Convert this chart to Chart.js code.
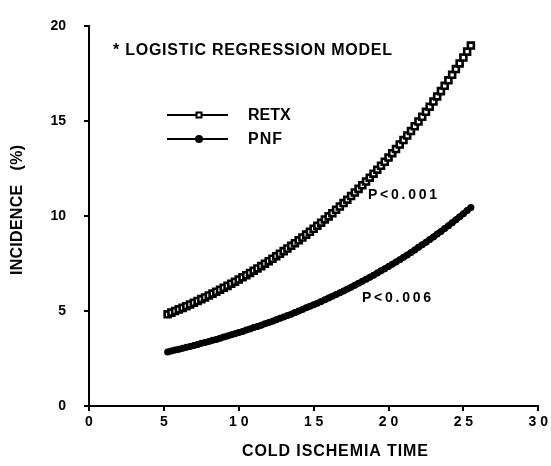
<!DOCTYPE html>
<html><head><meta charset="utf-8">
<script src="https://cdn.jsdelivr.net/npm/chart.js@4/dist/chart.umd.min.js"></script>
<style>html,body{margin:0;padding:0;background:#fff}canvas{display:block}</style>
</head><body>
<canvas id="c" width="551" height="466"></canvas>
<script>
const coldIschemiaTime = [
  5.25,5.5,5.75,6,6.25,6.5,6.75,7,7.25,7.5,7.75,8,8.25,8.5,8.75,9,9.25,9.5,9.75,10,
  10.25,10.5,10.75,11,11.25,11.5,11.75,12,12.25,12.5,12.75,13,13.25,13.5,13.75,14,14.25,14.5,14.75,15,
  15.25,15.5,15.75,16,16.25,16.5,16.75,17,17.25,17.5,17.75,18,18.25,18.5,18.75,19,19.25,19.5,19.75,20,
  20.25,20.5,20.75,21,21.25,21.5,21.75,22,22.25,22.5,22.75,23,23.25,23.5,23.75,24,24.25,24.5,24.75,25,
  25.25,25.5
];
const retxIncidence = [
  4.83,4.92,5.00,5.09,5.17,5.26,5.35,5.44,5.53,5.63,5.72,5.82,5.92,6.02,6.12,6.23,6.33,6.44,6.55,6.66,
  6.78,6.89,7.01,7.13,7.25,7.37,7.50,7.63,7.76,7.89,8.02,8.16,8.30,8.44,8.58,8.73,8.88,9.03,9.18,9.34,
  9.50,9.66,9.83,9.99,10.16,10.34,10.51,10.69,10.87,11.06,11.25,11.44,11.63,11.83,12.03,12.24,12.45,12.66,12.87,13.09,
  13.32,13.54,13.78,14.01,14.25,14.49,14.74,14.99,15.24,15.50,15.77,16.04,16.31,16.59,16.87,17.16,17.45,17.75,18.05,18.36,
  18.67,18.99
];
const pnfIncidence = [
  2.85,2.90,2.95,2.99,3.04,3.09,3.14,3.19,3.24,3.30,3.35,3.40,3.46,3.51,3.57,3.63,3.69,3.75,3.81,3.87,
  3.93,4.00,4.06,4.13,4.19,4.26,4.33,4.40,4.47,4.54,4.62,4.69,4.77,4.84,4.92,5.00,5.08,5.17,5.25,5.33,
  5.42,5.51,5.60,5.69,5.78,5.87,5.97,6.06,6.16,6.26,6.36,6.47,6.57,6.68,6.78,6.89,7.01,7.12,7.23,7.35,
  7.47,7.59,7.71,7.84,7.96,8.09,8.22,8.36,8.49,8.63,8.77,8.91,9.06,9.20,9.35,9.50,9.66,9.81,9.97,10.13,
  10.30,10.46
];
const xTickLabels = ['0','5','1 0','1 5','2 0','2 5','3 0'];
const yTickLabels = ['0','5','10','15','20'];
const seriesNames = ['RETX','PNF'];
const modelNote = '* LOGISTIC REGRESSION MODEL';
const pLabels = ['P<0.001','P<0.006'];
const xTitle = 'COLD ISCHEMIA TIME';
const yTitle = 'INCIDENCE   (%)';

const FONT = '"Liberation Sans", Arial, sans-serif';

function fitText(ctx, text, x, y, w, size) {
  ctx.font = 'bold ' + size + 'px ' + FONT;
  ctx.letterSpacing = '0px';
  const w0 = ctx.measureText(text).width;
  const sp = Math.max(0, (w - w0) / Math.max(1, text.length - 1));
  ctx.letterSpacing = sp + 'px';
  ctx.textAlign = 'left';
  ctx.fillText(text, x, y);
  ctx.letterSpacing = '0px';
}

const textPlugin = {
  id: 'texts',
  afterDraw(chart) {
    const ctx = chart.ctx;
    ctx.save();
    ctx.fillStyle = '#000';
    ctx.strokeStyle = '#000';
    ctx.textBaseline = 'middle';
    fitText(ctx, modelNote, 113, 51, 279, 16);
    // legend
    ctx.lineWidth = 2;
    ctx.beginPath(); ctx.moveTo(167, 115); ctx.lineTo(228, 115); ctx.stroke();
    ctx.beginPath(); ctx.moveTo(167, 139); ctx.lineTo(228, 139); ctx.stroke();
    ctx.fillRect(195.5, 111.5, 7, 7);
    ctx.fillStyle = '#fff'; ctx.fillRect(197.5, 113.5, 3, 3); ctx.fillStyle = '#000';
    ctx.beginPath(); ctx.arc(199, 139, 4, 0, Math.PI * 2); ctx.fill();
    fitText(ctx, seriesNames[0], 248, 116, 42, 16);
    fitText(ctx, seriesNames[1], 248, 140, 34, 16);
    fitText(ctx, pLabels[0], 368, 195, 69, 14);
    fitText(ctx, pLabels[1], 362, 298, 69, 14);
    fitText(ctx, xTitle, 242, 452, 186, 16);
    ctx.save();
    ctx.translate(18, 275);
    ctx.rotate(-Math.PI / 2);
    fitText(ctx, yTitle, 0, 0, 130, 16);
    ctx.restore();
    ctx.restore();
  }
};

const retxPts = coldIschemiaTime.map((x, i) => ({x, y: retxIncidence[i]}));
const pnfPts = coldIschemiaTime.map((x, i) => ({x, y: pnfIncidence[i]}));

new Chart(document.getElementById('c'), {
  type: 'line',
  data: {
    datasets: [
      {
        label: seriesNames[0], data: retxPts,
        borderColor: '#000', borderWidth: 1.5, backgroundColor: '#fff',
        pointStyle: 'rect', pointRadius: 4.2, pointBorderWidth: 2.6,
        pointBorderColor: '#000', pointBackgroundColor: '#fff', tension: 0
      },
      {
        label: seriesNames[1], data: pnfPts,
        borderColor: '#000', borderWidth: 6, backgroundColor: '#000',
        pointStyle: 'circle', pointRadius: 3.5, pointBorderWidth: 0,
        pointBackgroundColor: '#000', tension: 0
      }
    ]
  },
  options: {
    responsive: false,
    animation: false,
    events: [],
    layout: { padding: { top: 16, right: 9, left: 0, bottom: 0 } },
    plugins: { legend: { display: false }, tooltip: { enabled: false } },
    scales: {
      x: {
        type: 'linear', min: 0, max: 30,
        afterFit(s) { s.height = 60; },
        border: { color: '#000', width: 2 },
        grid: { drawOnChartArea: false, drawTicks: true, tickLength: 5, color: '#000', lineWidth: 2 },
        ticks: {
          stepSize: 5, padding: 3, color: '#000', maxRotation: 0,
          font: { family: FONT, size: 14, weight: 'bold' },
          callback: (v) => xTickLabels[Math.round(v / 5)]
        }
      },
      y: {
        type: 'linear', min: 0, max: 20,
        afterFit(s) { s.width = 89; },
        border: { color: '#000', width: 2 },
        grid: { drawOnChartArea: false, drawTicks: true, tickLength: 5, color: '#000', lineWidth: 2 },
        ticks: {
          stepSize: 5, padding: 18, color: '#000',
          font: { family: FONT, size: 14, weight: 'bold' },
          callback: (v) => yTickLabels[Math.round(v / 5)]
        }
      }
    }
  },
  plugins: [textPlugin]
});
</script>
</body></html>
